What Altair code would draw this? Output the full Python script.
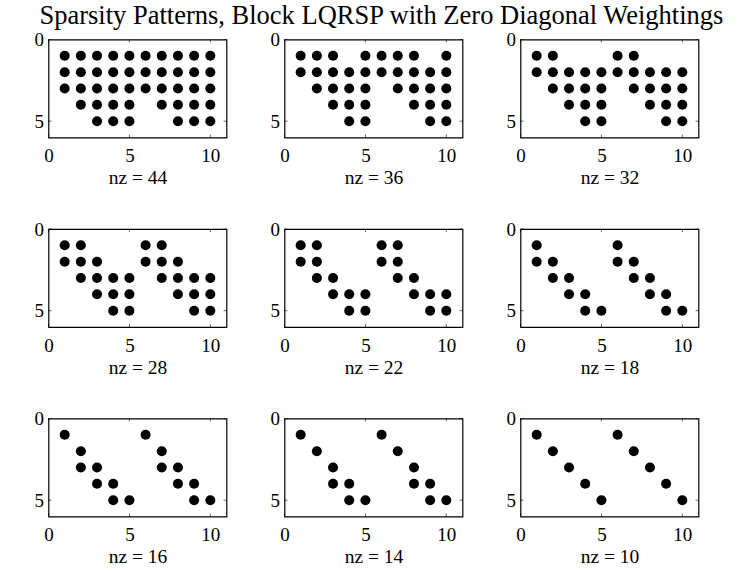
import altair as alt
import pandas as pd

# nonzero counts per panel
panel_nz = [44, 36, 32, 28, 22, 18, 16, 14, 10]

# column indices of nonzeros in rows 1..5, for each panel
pattern_44 = [[1, 2, 3, 4, 5, 6, 7, 8, 9, 10], [1, 2, 3, 4, 5, 6, 7, 8, 9, 10],
              [1, 2, 3, 4, 5, 6, 7, 8, 9, 10], [2, 3, 4, 5, 7, 8, 9, 10], [3, 4, 5, 8, 9, 10]]
pattern_36 = [[1, 2, 3, 5, 6, 7, 8, 10], [1, 2, 3, 4, 5, 6, 7, 8, 9, 10],
              [2, 3, 4, 5, 7, 8, 9, 10], [3, 4, 5, 8, 9, 10], [4, 5, 9, 10]]
pattern_32 = [[1, 2, 6, 7], [1, 2, 3, 4, 5, 6, 7, 8, 9, 10],
              [2, 3, 4, 5, 7, 8, 9, 10], [3, 4, 5, 8, 9, 10], [4, 5, 9, 10]]
pattern_28 = [[1, 2, 6, 7], [1, 2, 3, 6, 7, 8],
              [2, 3, 4, 5, 7, 8, 9, 10], [3, 4, 5, 8, 9, 10], [4, 5, 9, 10]]
pattern_22 = [[1, 2, 6, 7], [1, 2, 6, 7], [2, 3, 7, 8], [3, 4, 5, 8, 9, 10], [4, 5, 9, 10]]
pattern_18 = [[1, 6], [1, 2, 6, 7], [2, 3, 7, 8], [3, 4, 8, 9], [4, 5, 9, 10]]
pattern_16 = [[1, 6], [2, 7], [2, 3, 7, 8], [3, 4, 8, 9], [4, 5, 9, 10]]
pattern_14 = [[1, 6], [2, 7], [3, 8], [3, 4, 8, 9], [4, 5, 9, 10]]
pattern_10 = [[1, 6], [2, 7], [3, 8], [4, 9], [5, 10]]

patterns = [pattern_44, pattern_36, pattern_32, pattern_28, pattern_22,
            pattern_18, pattern_16, pattern_14, pattern_10]

x_ticks = [0, 5, 10]
y_ticks = [0, 5]
title_text = "Sparsity Patterns, Block LQRSP with Zero Diagonal Weightings"

W, H = 178, 98
FONT = "Liberation Serif"

xs = alt.Scale(domain=[0, 11], nice=False, zero=False)
ys = alt.Scale(domain=[0, 6], nice=False, zero=False, reverse=True)


def panel(nz, pat):
    rows = []
    for r, cols in enumerate(pat, start=1):
        for c in cols:
            rows.append({"col": c, "row": r})
    df = pd.DataFrame(rows)
    xa = alt.Axis(values=x_ticks, title=f"nz = {nz}", labelFlush=False)
    ya = alt.Axis(values=y_ticks, title=None)
    pts = alt.Chart(df).mark_circle(size=100, color="black", opacity=1).encode(
        x=alt.X("col:Q", scale=xs, axis=xa),
        y=alt.Y("row:Q", scale=ys, axis=ya),
    )
    xt = pd.DataFrame({"col": x_ticks})
    yt = pd.DataFrame({"row": y_ticks})
    tb = alt.Chart(xt).mark_rule(color="black", strokeWidth=0.6).encode(
        x=alt.X("col:Q", scale=xs, axis=xa), y=alt.value(H), y2=alt.value(H - 3))
    tt = alt.Chart(xt).mark_rule(color="black", strokeWidth=0.6).encode(
        x=alt.X("col:Q", scale=xs, axis=xa), y=alt.value(0), y2=alt.value(3))
    tl = alt.Chart(yt).mark_rule(color="black", strokeWidth=0.6).encode(
        y=alt.Y("row:Q", scale=ys, axis=ya), x=alt.value(0), x2=alt.value(3))
    tr = alt.Chart(yt).mark_rule(color="black", strokeWidth=0.6).encode(
        y=alt.Y("row:Q", scale=ys, axis=ya), x=alt.value(W - 3), x2=alt.value(W))
    return alt.layer(pts, tb, tt, tl, tr).properties(width=W, height=H)


charts = [panel(nz, pat) for nz, pat in zip(panel_nz, patterns)]

chart = alt.concat(
    *charts, columns=3, spacing={"row": 91.5, "column": 58}, bounds="flush"
).properties(
    title=alt.TitleParams(title_text, anchor="middle", dx=15, font=FONT,
                          fontSize=26.5, fontWeight="normal", color="black", offset=0.5),
    padding={"left": 32.5, "top": 2.5, "right": 5, "bottom": 5},
).configure_view(
    stroke="black", strokeWidth=1.2
).configure_axis(
    domain=False, grid=False, tickSize=0, labelFont=FONT, labelFontSize=19,
    labelColor="black", labelPadding=9, titleFont=FONT, titleFontSize=19.5,
    titleFontWeight="normal", titleColor="black", titlePadding=3,
).configure_axisY(labelPadding=5)

chart.save("out.html", embed_options={"renderer": "svg", "actions": False})
